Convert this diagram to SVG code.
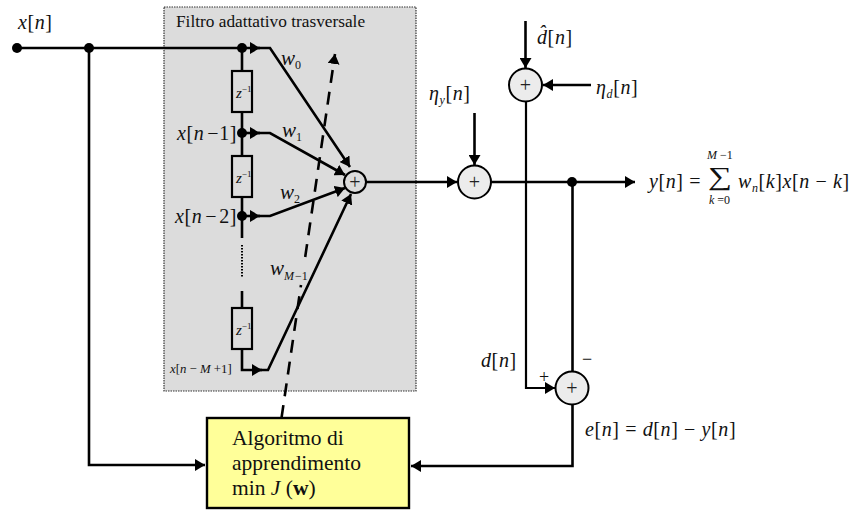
<svg xmlns="http://www.w3.org/2000/svg" width="855" height="511" viewBox="0 0 855 511">
<style>
text{font-family:"Liberation Serif","Times New Roman",serif;fill:#111}
.i{font-style:italic}
.m{font-size:20px;letter-spacing:.6px}
.w{font-size:21px;font-style:italic}
.s{font-size:12px}
.l{fill:none;stroke:#000;stroke-width:2.6}
.t{stroke-width:2.2}
.b{fill:none;stroke:#000;stroke-width:2.2}
.c{fill:#ececec;stroke:#000;stroke-width:2}
.p{font-size:20px;text-anchor:middle;fill:#222}
</style>
<defs>
<marker id="a" markerUnits="userSpaceOnUse" markerWidth="12" markerHeight="12" refX="10" refY="6" orient="auto"><path d="M0 0L10 6L0 12Z" fill="#000"/></marker>
</defs>
<rect id="filter" x="164" y="7" width="252" height="384" fill="#dcdcdc" stroke="#333" stroke-width="1.2" stroke-dasharray="1.5 1"/>
<text x="176" y="27" font-size="17.300">Filtro adattativo trasversale</text>
<g id="connectors">
<path class="l" d="M17 48H260" marker-end="url(#a)"/>
<path class="l" d="M258 48H270L350 167" marker-end="url(#a)"/>
<path class="l" d="M242 133H260" marker-end="url(#a)"/>
<path class="l" d="M258 133H270L345 175" marker-end="url(#a)"/>
<path class="l" d="M242 216H260" marker-end="url(#a)"/>
<path class="l" d="M258 216H270L345 188" marker-end="url(#a)"/>
<path class="l" d="M242 48V71M242 112V156M242 197V238M242 291V308"/>
<path d="M242 245V278" fill="none" stroke="#000" stroke-width="2" stroke-dasharray="1.5 1.5"/>
<path class="l" d="M242 349V370H262" marker-end="url(#a)"/>
<path class="l" d="M258 370H268L351 194" marker-end="url(#a)"/>
<path class="l" d="M281.500 418L301 285" stroke-dasharray="13 9"/>
<path class="l" d="M305.200 257L335 54" stroke-dasharray="13 9" marker-end="url(#a)"/>
<path class="l" d="M89 48V465H205" marker-end="url(#a)"/>
<path class="l" d="M366 182H457" marker-end="url(#a)"/>
<path class="l" d="M474.500 113V165" marker-end="url(#a)"/>
<path class="l" d="M490 182H635" marker-end="url(#a)"/>
<path class="l" d="M525.500 21V68" marker-end="url(#a)"/>
<path class="l" d="M591 85H543" marker-end="url(#a)"/>
<path class="l t" d="M526 101V388H555" marker-end="url(#a)"/>
<path class="l" d="M572.500 182V371"/>
<path class="l" d="M572.500 404V466H411" marker-end="url(#a)"/>
</g>
<g id="dots" fill="#000">
<circle cx="17" cy="48" r="5"/><circle cx="89" cy="48" r="5"/><circle cx="242" cy="48" r="5"/><circle cx="242" cy="133" r="5"/><circle cx="242" cy="216" r="5"/><circle cx="572" cy="182" r="5"/>
</g>
<g id="delay0"><rect class="b" x="232" y="71" width="20" height="41"/><text x="236" y="98" class="i" font-size="15" fill="#333">z<tspan dy="-6" font-size="9" font-style="normal">−1</tspan></text></g>
<g id="delay1"><rect class="b" x="232" y="156" width="20" height="41"/><text x="236" y="183" class="i" font-size="15" fill="#333">z<tspan dy="-6" font-size="9" font-style="normal">−1</tspan></text></g>
<g id="delay2"><rect class="b" x="232" y="308" width="20" height="41"/><text x="236" y="335" class="i" font-size="15" fill="#333">z<tspan dy="-6" font-size="9" font-style="normal">−1</tspan></text></g>
<g id="sum0"><circle cx="355" cy="182" r="11" fill="#dcdcdc" stroke="#000" stroke-width="2"/><text x="355" y="189" class="p">+</text></g>
<g id="sum1"><circle class="c" cx="474.500" cy="182" r="16.500"/><text x="474.500" y="189" class="p">+</text></g>
<g id="sum2"><circle class="c" cx="525.500" cy="85" r="16.500"/><text x="525.500" y="92" class="p">+</text></g>
<g id="sum3"><circle class="c" cx="572" cy="388" r="16.500"/><text x="572" y="395" class="p">+</text></g>
<g id="algo"><rect x="207" y="418" width="202" height="90" fill="#ffff99" stroke="#000" stroke-width="2.4"/>
<text x="232" y="445" font-size="21.500">Algoritmo di</text>
<text x="232" y="470" font-size="21.500">apprendimento</text>
<text x="232" y="495" font-size="21.500">min <tspan class="i">J</tspan> (<tspan font-weight="bold">w</tspan>)</text></g>
<g id="labels">
<text x="18" y="29" class="m"><tspan class="i">x</tspan>[<tspan class="i">n</tspan>]</text>
<text x="177" y="140" class="m"><tspan class="i">x</tspan>[<tspan class="i">n</tspan><tspan dx="3">−1]</tspan></text>
<text x="175" y="223" class="m"><tspan class="i">x</tspan>[<tspan class="i">n</tspan><tspan dx="3">−</tspan><tspan dx="2">2]</tspan></text>
<text x="170" y="373" font-size="12.800"><tspan class="i">x</tspan>[<tspan class="i">n</tspan> − <tspan class="i">M</tspan> +1]</text>
<text x="281" y="65" class="w">w<tspan dy="4" class="s" font-style="normal">0</tspan></text>
<text x="282" y="137" class="w">w<tspan dy="4" class="s" font-style="normal">1</tspan></text>
<text x="280" y="199" class="w">w<tspan dy="4" class="s" font-style="normal">2</tspan></text>
<text x="270" y="275" class="w">w<tspan dy="5" font-size="12">M</tspan><tspan font-size="12" font-style="normal" dx="1">−1</tspan></text>
<text x="537" y="44" class="m"><tspan class="i">d̂</tspan>[<tspan class="i">n</tspan>]</text>
<text x="596" y="94" class="m"><tspan class="i">η</tspan><tspan dy="4" class="s i">d</tspan><tspan dy="-4">[</tspan><tspan class="i">n</tspan>]</text>
<text x="429" y="100" class="m"><tspan class="i">η</tspan><tspan dy="4" class="s i">y</tspan><tspan dy="-4">[</tspan><tspan class="i">n</tspan>]</text>
<text x="649" y="188" class="m"><tspan class="i">y</tspan>[<tspan class="i">n</tspan>] =</text>
<text transform="translate(708 185) scale(1.3 1)" font-size="26">∑</text>
<text x="707" y="159" font-size="12"><tspan class="i">M</tspan> −1</text>
<text x="709" y="204" font-size="12"><tspan class="i">k</tspan> =0</text>
<text x="738" y="188" class="m" letter-spacing=".9"><tspan class="i">w</tspan><tspan dy="4" class="s i">n</tspan><tspan dy="-4">[</tspan><tspan class="i">k</tspan>]<tspan class="i">x</tspan>[<tspan class="i">n</tspan> − <tspan class="i">k</tspan>]</text>
<text x="481" y="367" class="m"><tspan class="i">d</tspan>[<tspan class="i">n</tspan>]</text>
<text x="544" y="383" font-size="18" text-anchor="middle">+</text>
<text x="587" y="365" font-size="18" text-anchor="middle">−</text>
<text x="585" y="436" class="m"><tspan class="i">e</tspan>[<tspan class="i">n</tspan>] = <tspan class="i">d</tspan>[<tspan class="i">n</tspan>] − <tspan class="i">y</tspan>[<tspan class="i">n</tspan>]</text>
</g>
</svg>
